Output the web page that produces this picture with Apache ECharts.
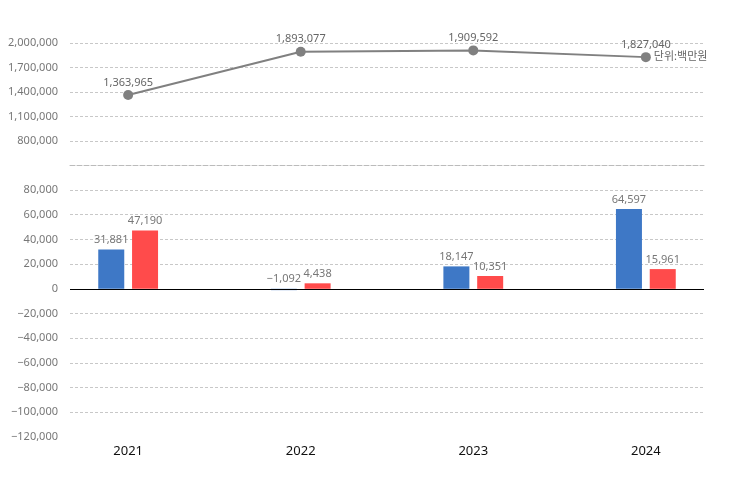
<!DOCTYPE html>
<html><head><meta charset="utf-8">
<script src="https://cdn.jsdelivr.net/npm/echarts@6/dist/echarts.min.js"></script>
<style>html,body{margin:0;padding:0;background:#fff}#c{width:732px;height:490px}</style>
</head><body><div id="c"></div>
<script>
const years = ['2021', '2022', '2023', '2024'];
const totalValues = [1363965, 1893077, 1909592, 1827040];
const blueValues = [31881, -1092, 18147, 64597];
const redValues = [47190, 4438, 10351, 15961];
const unitText = '단위:백만원';

const FONT = "'Noto Sans', 'Noto Sans CJK KR', sans-serif";
const fmt = v => (v < 0 ? '\u2212' : '') + Math.abs(v).toLocaleString('en-US');
const pairs = arr => arr.map((v, i) => [i, v]);
const splitStyle = { show: true, showMinLine: false, lineStyle: { color: '#c8c8c8', type: [3, 2], width: 1 } };

const chart = echarts.init(document.getElementById('c'), null, { renderer: 'canvas' });
chart.setOption({
  animation: false,
  textStyle: { fontFamily: FONT },
  grid: [
    { left: 70, right: 28, top: 43, height: 122.5 },
    { left: 70, right: 28, top: 190, height: 247 }
  ],
  xAxis: [
    { gridIndex: 0, type: 'value', min: -0.337, max: 3.337,
      axisLine: { show: true, onZero: false, lineStyle: { color: '#bbbbbb', type: [5, 2], width: 1 } },
      axisTick: { show: false }, axisLabel: { show: false }, splitLine: { show: false } },
    { gridIndex: 1, type: 'value', min: -0.337, max: 3.337,
      axisLine: { show: false, onZero: false }, axisTick: { show: false }, splitLine: { show: false },
      axisLabel: { customValues: [0, 1, 2, 3], formatter: v => years[Math.round(v)] ?? '',
        color: '#111', fontSize: 13, margin: 8, fontFamily: FONT } }
  ],
  yAxis: [
    { gridIndex: 0, type: 'value', min: 500000, max: 2000000, interval: 300000,
      axisLine: { show: false }, axisTick: { show: false },
      axisLabel: { color: '#777', fontSize: 11, margin: 12, fontFamily: FONT,
        formatter: v => v <= 500000 ? '' : fmt(v) },
      splitLine: splitStyle },
    { gridIndex: 1, type: 'value', min: -120000, max: 80000, interval: 20000,
      axisLine: { show: false }, axisTick: { show: false },
      axisLabel: { color: '#777', fontSize: 11, margin: 12, fontFamily: FONT, formatter: v => fmt(v) },
      splitLine: splitStyle }
  ],
  series: [
    { type: 'line', xAxisIndex: 0, yAxisIndex: 0, data: pairs(totalValues),
      symbol: 'circle', symbolSize: 10,
      lineStyle: { color: '#808080', width: 2 }, itemStyle: { color: '#808080' },
      label: { show: true, position: 'top', distance: 2, color: '#666', fontSize: 11, fontFamily: FONT,
        formatter: p => fmt(p.value[1]) },
      markPoint: { symbol: 'circle', symbolSize: 0, silent: true,
        data: [{ coord: [3, totalValues[3]] }],
        label: { show: true, position: 'right', distance: 8, color: '#666', fontSize: 11, fontFamily: FONT,
          formatter: () => unitText } } },
    { type: 'bar', xAxisIndex: 1, yAxisIndex: 1, data: pairs(blueValues),
      barWidth: 26, barGap: '30%', itemStyle: { color: '#3e78c6' },
      label: { show: true, position: 'top', distance: 4, color: '#777', fontSize: 11, fontFamily: FONT,
        formatter: p => fmt(p.value[1]) },
      markLine: { silent: true, symbol: 'none', label: { show: false },
        lineStyle: { color: '#000', type: 'solid', width: 1.2 }, data: [{ yAxis: 0 }] } },
    { type: 'bar', xAxisIndex: 1, yAxisIndex: 1, data: pairs(redValues),
      barWidth: 26, barGap: '30%', itemStyle: { color: '#ff4b4b' },
      label: { show: true, position: 'top', distance: 4, color: '#777', fontSize: 11, fontFamily: FONT,
        formatter: p => fmt(p.value[1]) } }
  ]
});
</script></body></html>
